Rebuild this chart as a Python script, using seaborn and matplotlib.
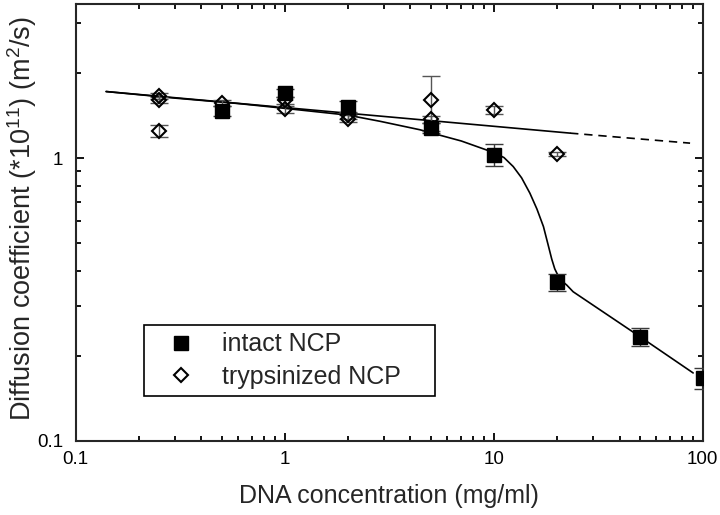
import matplotlib
matplotlib.use('Agg')
import matplotlib.pyplot as plt
import matplotlib.ticker as mticker
import seaborn as sns
import pandas as pd

# measured points
conc_intact = [0.5, 1, 2, 5, 10, 20, 50, 100]
D_intact = [1.47, 1.70, 1.52, 1.28, 1.03, 0.364, 0.233, 0.167]
err_intact = [0.06, 0.05, 0.07, 0.05, 0.09, 0.025, 0.017, 0.014]

conc_tryp = [0.25, 0.25, 0.25, 0.5, 1, 1, 2, 2, 5, 5, 10, 20]
D_tryp = [1.66, 1.61, 1.25, 1.57, 1.60, 1.49, 1.42, 1.38, 1.60, 1.37, 1.48, 1.035]
err_tryp = [0.04, 0.04, 0.06, 0.04, 0.05, 0.04, 0.04, 0.04, 0.35, 0.04, 0.05, 0.02]

# fit lines
tryp_fit_x = [0.14, 23.2]
tryp_fit_y = [1.72, 1.226]
tryp_extrap_x = [23.2, 87]
tryp_extrap_y = [1.226, 1.13]

intact_fit_x = [0.14, 0.3, 0.6, 1.0, 2.0, 2.86, 4.44, 5.0, 7.0, 10.0, 11.2, 12.4, 13.6,
                14.9, 16.1, 17.3, 18.2, 18.95, 19.6, 20.3, 21.2, 22.35, 24.0, 50.0, 90.0]
intact_fit_y = [1.72, 1.63, 1.56, 1.50, 1.42, 1.35, 1.26, 1.23, 1.15, 1.047, 1.005, 0.934, 0.852,
                0.752, 0.661, 0.573, 0.495, 0.44, 0.406, 0.385, 0.368, 0.356, 0.337, 0.234, 0.174]

sns.set_style('ticks')
plt.rcParams['font.family'] = ['Liberation Sans', 'DejaVu Sans']
plt.rcParams['axes.linewidth'] = 1.5
plt.rcParams['mathtext.fontset'] = 'custom'
plt.rcParams['mathtext.rm'] = 'Liberation Sans'

df_intact = pd.DataFrame({'conc': conc_intact, 'D': D_intact})
df_tryp = pd.DataFrame({'conc': conc_tryp, 'D': D_tryp})

fig = plt.figure(figsize=(7.2, 5.15), dpi=100)
ax = fig.add_axes([0.105, 0.1437, 0.871, 0.848])

sns.lineplot(x=tryp_fit_x, y=tryp_fit_y, color='black', lw=1.2, ax=ax, zorder=2)
sns.lineplot(x=tryp_extrap_x, y=tryp_extrap_y, color='black', lw=1.2, ax=ax, zorder=2,
             linestyle=(0, (5, 3.5)))
sns.lineplot(x=intact_fit_x, y=intact_fit_y, color='black', lw=1.2, ax=ax, zorder=2,
             sort=False, estimator=None)

ax.errorbar(conc_intact, D_intact, yerr=err_intact, fmt='none', ecolor='#3a3a3a',
            elinewidth=1, capsize=6.5, capthick=1, zorder=3)
ax.errorbar(conc_tryp, D_tryp, yerr=err_tryp, fmt='none', ecolor='#555555',
            elinewidth=1, capsize=6.5, capthick=1, zorder=3)

ax.plot(df_intact['conc'], df_intact['D'], 's', color='black', ms=9.4, zorder=4,
        label='intact NCP')
ax.plot(df_tryp['conc'], df_tryp['D'], 'D', mfc='none', mec='black', mew=1.5, ms=7.6,
        zorder=5, label='trypsinized NCP')

ax.set_xscale('log')
ax.set_yscale('log')
ax.set_xlim(0.1, 100)
ax.set_ylim(0.1, 3.5)

fmt = mticker.FuncFormatter(lambda v, p: f'{v:g}')
ax.xaxis.set_major_formatter(fmt)
ax.yaxis.set_major_formatter(fmt)
ax.yaxis.set_minor_formatter(mticker.NullFormatter())
ax.xaxis.set_minor_formatter(mticker.NullFormatter())
ax.tick_params(which='both', direction='in', top=True, right=True, width=1.3,
               labelsize=13.5, colors='black')
ax.tick_params(which='major', length=6)
ax.tick_params(which='minor', length=3.5)
ax.tick_params(axis='x', pad=7)
ax.tick_params(axis='y', pad=9)

ax.set_xlabel('DNA concentration (mg/ml)', fontsize=18, labelpad=12)
ax.set_ylabel('Diffusion coefficient (*10$^{11}$) (m$^{2}$/s)', fontsize=19.5)
ax.yaxis.set_label_coords(-0.058, 0.51)

leg = ax.legend(loc='lower left', bbox_to_anchor=(0.109, 0.103, 0.464, 0.185),
                mode='expand', fontsize=18, frameon=True, fancybox=False,
                edgecolor='black', framealpha=1, handlelength=2.4, handletextpad=0.45,
                labelspacing=0.35, borderpad=0.28, borderaxespad=0, numpoints=1)
leg.get_frame().set_linewidth(1.2)

fig.savefig('out.png', dpi=100)
